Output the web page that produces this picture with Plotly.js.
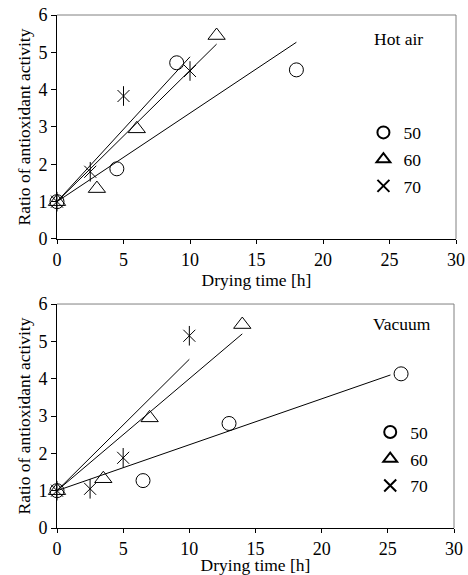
<!DOCTYPE html>
<html>
<head>
<meta charset="utf-8">
<script src="https://cdn.plot.ly/plotly-3.0.1.min.js"></script>
<style>html,body{margin:0;padding:0;background:#fff;}#chart{width:468px;height:575px;}</style>
</head>
<body>
<div id="chart"></div>
<script>
// ---- Data ----
var seriesNames = ["50", "60", "70"];

// Hot air
var hotX50 = [0, 4.5, 9, 18];
var hotY50 = [1, 1.88, 4.72, 4.53];
var hotX60 = [0, 3, 6, 12];
var hotY60 = [1, 1.35, 2.95, 5.45];
var hotX70 = [0, 2.5, 5, 10];
var hotY70 = [1, 1.8, 3.83, 4.5];
var hotFitX50 = [0, 18];
var hotFitY50 = [1, 5.27];
var hotFitX60 = [0, 12];
var hotFitY60 = [1, 5.22];
var hotFitX70 = [0, 10];
var hotFitY70 = [1, 4.88];

// Vacuum
var vacX50 = [0, 6.5, 13, 26];
var vacY50 = [1, 1.27, 2.8, 4.13];
var vacX60 = [0, 3.5, 7, 14];
var vacY60 = [1, 1.32, 2.95, 5.45];
var vacX70 = [0, 2.5, 5, 10];
var vacY70 = [1, 1.05, 1.88, 5.15];
var vacFitX50 = [0, 25.2];
var vacFitY50 = [1, 4.1];
var vacFitX60 = [0, 14];
var vacFitY60 = [1, 5.2];
var vacFitX70 = [0, 10];
var vacFitY70 = [1, 4.52];

var panelLabels = ["Hot air", "Vacuum"];
var xTitle = "Drying time [h]";
var yTitle = "Ratio of antioxidant activity";

// ---- Build traces ----
var FONT = "'Liberation Serif', 'Times New Roman', serif";
var FS = 17.5;
var TFS = 18;
function markerTrace(x, y, name, symbol, size, xa, ya, lg, show) {
  return {
    type: "scatter", mode: "markers", x: x, y: y, name: name,
    xaxis: xa, yaxis: ya, legend: lg, showlegend: show,
    legendgroup: lg + name, cliponaxis: false,
    marker: {symbol: symbol, size: size, color: "#000",
             line: {color: "#000", width: 1}}
  };
}
function fitTrace(x, y, xa, ya) {
  return {type: "scatter", mode: "lines", x: x, y: y, xaxis: xa, yaxis: ya,
          showlegend: false, hoverinfo: "skip",
          line: {color: "#000", width: 1}};
}

var traces = [
  fitTrace(hotFitX50, hotFitY50, "x", "y"),
  fitTrace(hotFitX60, hotFitY60, "x", "y"),
  fitTrace(hotFitX70, hotFitY70, "x", "y"),
  markerTrace(hotX50, hotY50, seriesNames[0], "circle-open", 14, "x", "y", "legend", true),
  markerTrace(hotX60, hotY60, seriesNames[1], "triangle-up-open", 15, "x", "y", "legend", true),
  markerTrace(hotX70, hotY70, seriesNames[2], "x-thin-open", 12, "x", "y", "legend", true),
  markerTrace(hotX70, hotY70, seriesNames[2], "line-ns-open", 14, "x", "y", "legend", false),

  fitTrace(vacFitX50, vacFitY50, "x2", "y2"),
  fitTrace(vacFitX60, vacFitY60, "x2", "y2"),
  fitTrace(vacFitX70, vacFitY70, "x2", "y2"),
  markerTrace(vacX50, vacY50, seriesNames[0], "circle-open", 14, "x2", "y2", "legend2", true),
  markerTrace(vacX60, vacY60, seriesNames[1], "triangle-up-open", 15, "x2", "y2", "legend2", true),
  markerTrace(vacX70, vacY70, seriesNames[2], "x-thin-open", 12, "x2", "y2", "legend2", true),
  markerTrace(vacX70, vacY70, seriesNames[2], "line-ns-open", 14, "x2", "y2", "legend2", false)
];

function xAxis(anchor, domain) {
  return {anchor: anchor, domain: domain, range: [0, 30], dtick: 5, tick0: 0,
          showgrid: false, zeroline: false, showline: true, linecolor: "#000", linewidth: 1,
          ticks: "outside", ticklen: 4, tickcolor: "#000",
          tickfont: {family: FONT, size: TFS, color: "#000"},
          title: {text: xTitle, font: {family: FONT, size: FS, color: "#000"}, standoff: 0},
          fixedrange: true};
}
function yAxis(anchor, domain) {
  return {anchor: anchor, domain: domain, range: [0, 6], dtick: 1, tick0: 0,
          showgrid: false, zeroline: false, showline: true, linecolor: "#000", linewidth: 1,
          ticks: "outside", ticklen: 5, tickcolor: "#000",
          tickfont: {family: FONT, size: TFS, color: "#000"},
          title: {text: yTitle, font: {family: FONT, size: FS, color: "#000"}, standoff: 3},
          fixedrange: true};
}
function frame(xr, yr) {
  return [
    {type: "line", xref: xr + " domain", yref: yr + " domain", x0: 0, x1: 1, y0: 1, y1: 1,
     line: {color: "#808080", width: 1}},
    {type: "line", xref: xr + " domain", yref: yr + " domain", x0: 1, x1: 1, y0: 0, y1: 1,
     line: {color: "#808080", width: 1}}
  ];
}
function legendBox(x, y) {
  return {x: x, xanchor: "left", y: y, yanchor: "top", bgcolor: "rgba(0,0,0,0)",
          borderwidth: 0, font: {family: FONT, size: FS, color: "#000"},
          traceorder: "grouped", tracegroupgap: 1, itemsizing: "constant"};
}

var layout = {
  width: 468, height: 575,
  margin: {l: 57, r: 12, t: 15, b: 47},
  paper_bgcolor: "#fff", plot_bgcolor: "#fff",
  showlegend: true,
  xaxis: xAxis("y", [0, 1]),
  yaxis: yAxis("x", [0.5634, 1]),
  xaxis2: xAxis("y2", [0, 0.995]),
  yaxis2: yAxis("x2", [0, 0.4366]),
  legend: legendBox(0.768, 0.806),
  legend2: legendBox(0.785, 0.222),
  shapes: frame("x", "y").concat(frame("x2", "y2")),
  annotations: [
    {xref: "x", yref: "y", x: 27.7, y: 5.36, xanchor: "right", yanchor: "middle",
     text: panelLabels[0], showarrow: false, font: {family: FONT, size: FS, color: "#000"}},
    {xref: "x2", yref: "y2", x: 28.4, y: 5.46, xanchor: "right", yanchor: "middle",
     text: panelLabels[1], showarrow: false, font: {family: FONT, size: FS, color: "#000"}}
  ]
};

Plotly.newPlot("chart", traces, layout, {displayModeBar: false, staticPlot: true});
</script>
</body>
</html>
